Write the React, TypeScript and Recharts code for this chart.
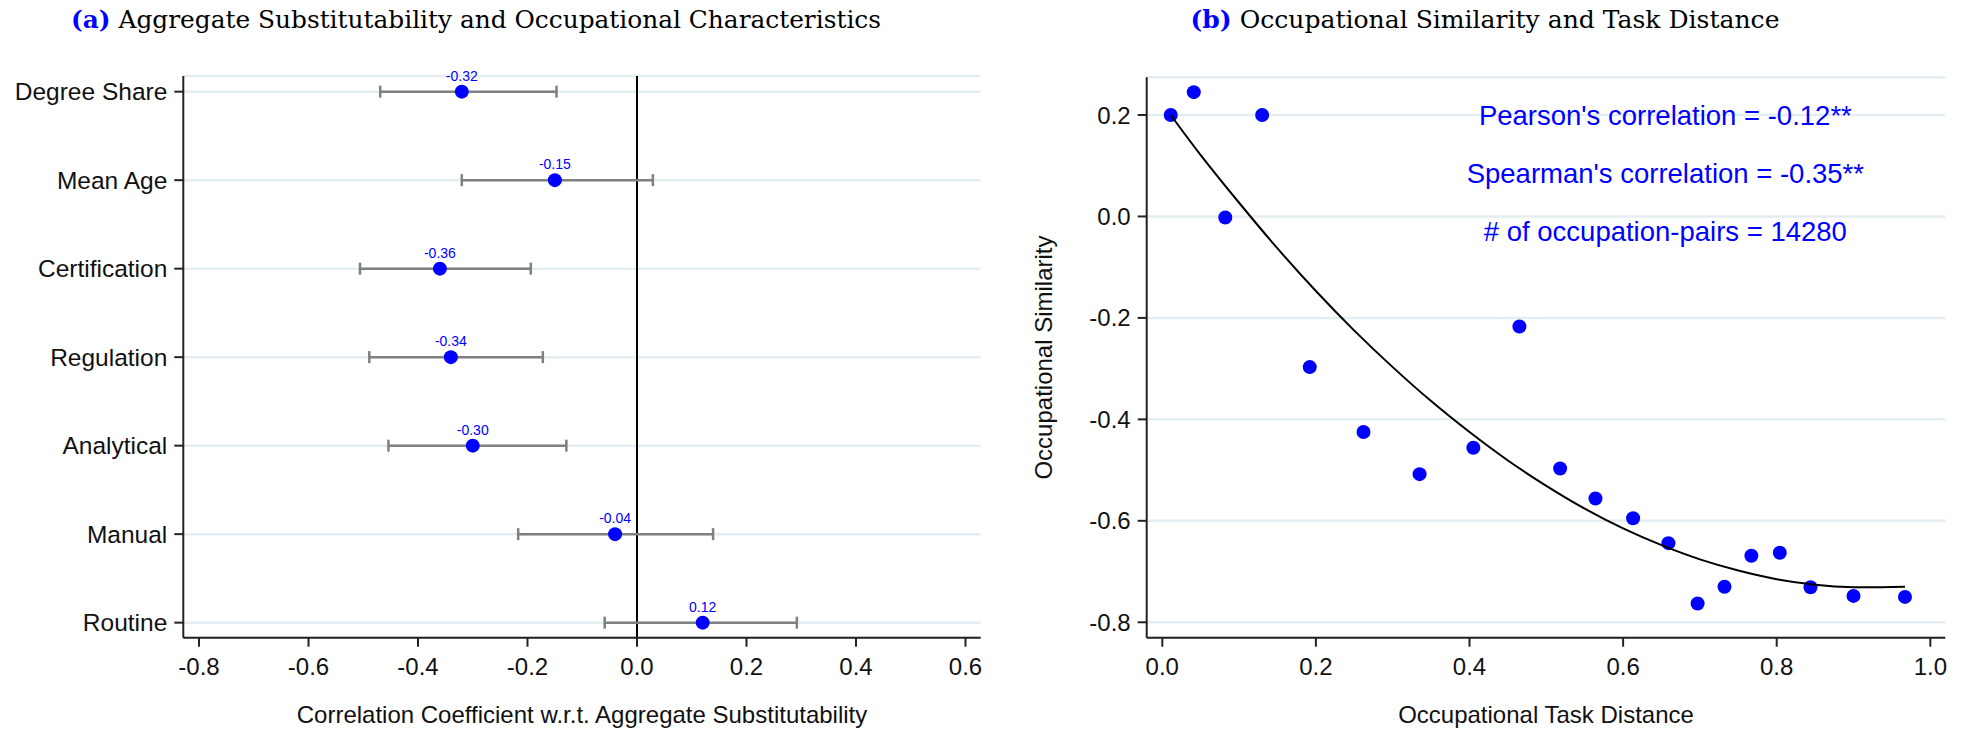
import React from 'react';
import {
  ScatterChart,
  Scatter,
  XAxis,
  YAxis,
  CartesianGrid,
  ErrorBar,
  ReferenceLine,
  ReferenceDot,
} from 'recharts';

// ---------- Panel (a) data ----------
const characteristics = ['Degree Share', 'Mean Age', 'Certification', 'Regulation', 'Analytical', 'Manual', 'Routine'];
const coefficients = [-0.32, -0.15, -0.36, -0.34, -0.3, -0.04, 0.12];
const ciLow = [-0.469, -0.32, -0.506, -0.489, -0.454, -0.217, -0.059];
const ciHigh = [-0.147, 0.029, -0.194, -0.172, -0.129, 0.139, 0.292];
const xTicksA = [-0.8, -0.6, -0.4, -0.2, 0, 0.2, 0.4, 0.6];
const rowTicksA = [1, 2, 3, 4, 5, 6, 7];

// ---------- Panel (b) data ----------
const taskDistance = [0.011, 0.041, 0.082, 0.13, 0.192, 0.262, 0.335, 0.405, 0.465, 0.518, 0.564, 0.613, 0.659, 0.697, 0.732, 0.767, 0.804, 0.844, 0.9, 0.967];
const similarity = [0.2, 0.245, -0.002, 0.2, -0.297, -0.425, -0.508, -0.456, -0.217, -0.497, -0.556, -0.595, -0.644, -0.763, -0.73, -0.669, -0.663, -0.731, -0.748, -0.75];
const fitDistance = [0.011, 0.05, 0.1, 0.15, 0.2, 0.25, 0.3, 0.35, 0.4, 0.45, 0.5, 0.55, 0.6, 0.65, 0.7, 0.75, 0.8, 0.85, 0.9, 0.967];
const fitSimilarity = [0.2, 0.121, 0.027, -0.063, -0.147, -0.225, -0.297, -0.364, -0.425, -0.481, -0.531, -0.576, -0.615, -0.648, -0.676, -0.698, -0.715, -0.726, -0.731, -0.73];
const xTicksB = [0, 0.2, 0.4, 0.6, 0.8, 1];
const yTicksB = [-0.8, -0.6, -0.4, -0.2, 0, 0.2];
const annotations = ["Pearson's correlation = -0.12**", "Spearman's correlation = -0.35**", '# of occupation-pairs = 14280'];
const annotationY = [0.2, 0.085, -0.03];
const annotationX = 0.655;

const dataA = characteristics.map((name, i) => ({
  name,
  row: i + 1,
  coef: coefficients[i],
  err: [coefficients[i] - ciLow[i], ciHigh[i] - coefficients[i]],
}));
const dataB = taskDistance.map((x, i) => ({ x, y: similarity[i] }));
const fitB = fitDistance.map((x, i) => ({ x, y: fitSimilarity[i] }));

const BLUE = '#0000ff';
const AXIS = '#222222';
const GRID = '#e4edf1';
const sans = '"Liberation Sans", Arial, Helvetica, sans-serif';

const DotA = (props: any) => {
  const { cx, cy, payload } = props;
  return (
    <g>
      <circle cx={cx} cy={cy} r={7} fill={BLUE} />
      <text x={cx} y={cy - 11} textAnchor="middle" fontSize={14} fill={BLUE} fontFamily={sans}>
        {payload.coef.toFixed(2)}
      </text>
    </g>
  );
};

const DotB = (props: any) => <circle cx={props.cx} cy={props.cy} r={7} fill={BLUE} />;
const NoDot = () => <g />;

const fmt1 = (v: number) => v.toFixed(1);

export default function App() {
  return (
    <div style={{ position: 'absolute', left: 0, top: 0, width: 1966, height: 732, background: '#fff', fontFamily: sans }}>
      <div style={{ position: 'absolute', left: 0, top: 0 }}>
        <ScatterChart width={983} height={732} margin={{ top: 76, right: 2.3, bottom: 0, left: 0 }}>
          <CartesianGrid vertical={false} stroke={GRID} strokeWidth={2.5} />
          <XAxis
            type="number"
            dataKey="coef"
            domain={[-0.8287, 0.6278]}
            ticks={xTicksA}
            tickFormatter={fmt1}
            height={94.3}
            tickSize={9}
            tickMargin={11}
            tick={{ fill: '#111', fontSize: 24 }}
            axisLine={{ stroke: AXIS, strokeWidth: 2 }}
            tickLine={{ stroke: AXIS, strokeWidth: 2 }}
            label={{ value: 'Correlation Coefficient w.r.t. Aggregate Substitutability', position: 'insideBottom', offset: 9, fill: '#111', fontSize: 24 }}
          />
          <YAxis
            type="number"
            dataKey="row"
            reversed
            domain={[0.823, 7.17]}
            ticks={rowTicksA}
            tickFormatter={(v: number) => characteristics[v - 1]}
            width={183.3}
            tickSize={9}
            tickMargin={7}
            tick={{ fill: '#111', fontSize: 24.5 }}
            axisLine={{ stroke: AXIS, strokeWidth: 2 }}
            tickLine={{ stroke: AXIS, strokeWidth: 2 }}
          />
          <ReferenceLine x={0} stroke="#000" strokeWidth={2} />
          <Scatter data={dataA} shape={DotA} isAnimationActive={false}>
            <ErrorBar dataKey="err" direction="x" width={6} stroke="#808080" strokeWidth={2.5} />
          </Scatter>
        </ScatterChart>
      </div>
      <div style={{ position: 'absolute', left: 983, top: 0 }}>
        <ScatterChart width={983} height={732} margin={{ top: 77.3, right: 20.7, bottom: 0, left: 0 }}>
          <CartesianGrid vertical={false} stroke={GRID} strokeWidth={2.5} />
          <XAxis
            type="number"
            dataKey="x"
            domain={[-0.0203, 1.0195]}
            ticks={xTicksB}
            tickFormatter={fmt1}
            height={94.3}
            tickSize={9}
            tickMargin={11}
            tick={{ fill: '#111', fontSize: 24 }}
            axisLine={{ stroke: AXIS, strokeWidth: 2 }}
            tickLine={{ stroke: AXIS, strokeWidth: 2 }}
            label={{ value: 'Occupational Task Distance', position: 'insideBottom', offset: 9, fill: '#111', fontSize: 24 }}
          />
          <YAxis
            type="number"
            dataKey="y"
            domain={[-0.8304, 0.2743]}
            ticks={yTicksB}
            tickFormatter={fmt1}
            width={163.7}
            tickSize={9}
            tickMargin={7}
            tick={{ fill: '#111', fontSize: 24 }}
            axisLine={{ stroke: AXIS, strokeWidth: 2 }}
            tickLine={{ stroke: AXIS, strokeWidth: 2 }}
            label={{ value: 'Occupational Similarity', angle: -90, position: 'insideLeft', offset: 60, fill: '#111', fontSize: 24, style: { textAnchor: 'middle' } }}
          />
          <Scatter data={dataB} shape={DotB} isAnimationActive={false} />
          <Scatter
            data={fitB}
            shape={NoDot}
            line={{ stroke: '#000', strokeWidth: 2 }}
            lineJointType="natural"
            isAnimationActive={false}
          />
          {annotations.map((t, i) => (
            <ReferenceDot
              key={t}
              x={annotationX}
              y={annotationY[i]}
              r={0}
              fill="none"
              stroke="none"
              label={{ value: t, position: 'center', fill: BLUE, fontSize: 27.5 }}
            />
          ))}
        </ScatterChart>
      </div>
      <svg width={1966} height={732} style={{ position: 'absolute', left: 0, top: 0, pointerEvents: 'none' }}>
        <text x={476} y={28} textAnchor="middle" fontFamily='"DejaVu Serif", serif' fontSize={24} textLength={810} lengthAdjust="spacingAndGlyphs">
          <tspan fontWeight="bold" fill={BLUE}>(a)</tspan>
          <tspan fill="#000"> Aggregate Substitutability and Occupational Characteristics</tspan>
        </text>
        <text x={1485} y={28} textAnchor="middle" fontFamily='"DejaVu Serif", serif' fontSize={24} textLength={589} lengthAdjust="spacingAndGlyphs">
          <tspan fontWeight="bold" fill={BLUE}>(b)</tspan>
          <tspan fill="#000"> Occupational Similarity and Task Distance</tspan>
        </text>
      </svg>
    </div>
  );
}
